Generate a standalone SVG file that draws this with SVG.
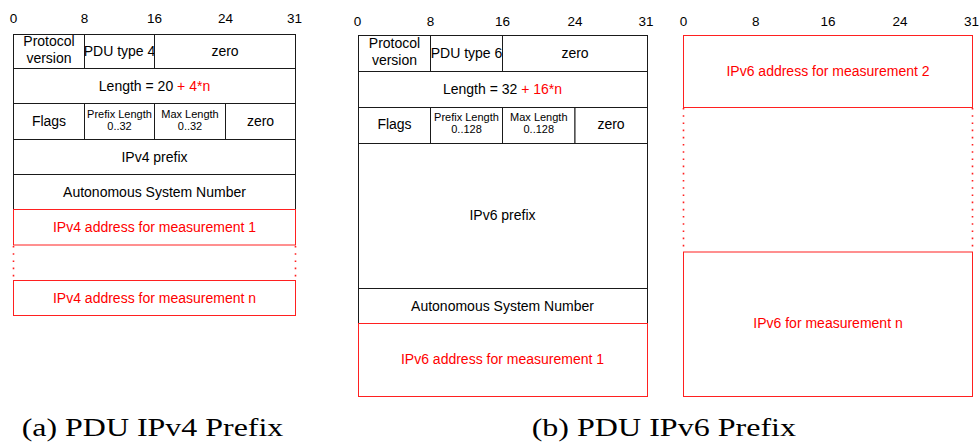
<svg xmlns="http://www.w3.org/2000/svg" width="979" height="443" viewBox="0 0 979 443">
  <style>
    .cell { fill: #ffffff; stroke: #1a1a1a; stroke-width: 1; }
    .rcell { fill: #ffffff; stroke: #ff2020; stroke-width: 1; }
    .dots { stroke: #ff2020; stroke-width: 1.6; stroke-dasharray: 1.6 5.6; fill: none; }
    text { font-family: "Liberation Sans", Arial, Helvetica, sans-serif; text-anchor: middle; fill: #000000; }
    .t { font-size: 14px; }
    .sm { font-size: 11px; }
    .bit { font-size: 13.5px; }
    .red { fill: #ff0000; }
    .cap { font-family: "Liberation Serif", "Times New Roman", serif; font-size: 25px; text-anchor: start; }
  </style>

  <rect width="979" height="443" fill="#ffffff"/>

  <!-- ===== (a) PDU IPv4 Prefix ===== -->
  <g id="ipv4-bits" class="bit">
    <text x="13.5" y="23">0</text>
    <text x="84.5" y="23">8</text>
    <text x="154.5" y="23">16</text>
    <text x="225.5" y="23">24</text>
    <text x="294.5" y="23">31</text>
  </g>
  <g id="v4-protocol-version">
    <rect class="cell" x="13.5" y="34.5" width="71" height="34"/>
    <text class="t" x="49" y="46">Protocol</text>
    <text class="t" x="49" y="62.7">version</text>
  </g>
  <g id="v4-pdu-type">
    <rect class="cell" x="84.5" y="34.5" width="70" height="34"/>
    <text class="t" x="119.5" y="55.5" font-size="13">PDU type 4</text>
  </g>
  <g id="v4-zero1">
    <rect class="cell" x="154.5" y="34.5" width="141" height="34"/>
    <text class="t" x="225" y="55.5">zero</text>
  </g>
  <g id="v4-length">
    <rect class="cell" x="13.5" y="68.5" width="282" height="35"/>
    <text class="t" x="154.5" y="91">Length = 20 <tspan class="red">+ 4*n</tspan></text>
  </g>
  <g id="v4-flags">
    <rect class="cell" x="13.5" y="103.5" width="71" height="36"/>
    <text class="t" x="49" y="125.5">Flags</text>
  </g>
  <g id="v4-prefix-length">
    <rect class="cell" x="84.5" y="103.5" width="70" height="36"/>
    <text class="sm" x="119.5" y="118.3">Prefix Length</text>
    <text class="sm" x="119.5" y="129.5">0..32</text>
  </g>
  <g id="v4-max-length">
    <rect class="cell" x="154.5" y="103.5" width="71" height="36"/>
    <text class="sm" x="190" y="118.3">Max Length</text>
    <text class="sm" x="190" y="129.5">0..32</text>
  </g>
  <g id="v4-zero2">
    <rect class="cell" x="225.5" y="103.5" width="70" height="36"/>
    <text class="t" x="260.5" y="125.5">zero</text>
  </g>
  <g id="v4-prefix">
    <rect class="cell" x="13.5" y="139.5" width="282" height="35"/>
    <text class="t" x="154.5" y="161.5">IPv4 prefix</text>
  </g>
  <g id="v4-asn">
    <rect class="cell" x="13.5" y="174.5" width="282" height="35"/>
    <text class="t" x="154.5" y="196.5">Autonomous System Number</text>
  </g>
  <g id="v4-measurement-1">
    <rect class="rcell" x="13.5" y="209.5" width="282" height="35.5"/>
    <text class="t red" x="154.5" y="231.5">IPv4 address for measurement 1</text>
  </g>
  <g id="v4-measurement-n">
    <rect class="rcell" x="13.5" y="280.5" width="282" height="35"/>
    <text class="t red" x="154.5" y="302.5">IPv4 address for measurement n</text>
  </g>

  <!-- ===== (b) PDU IPv6 Prefix ===== -->
  <g id="ipv6-bits" class="bit">
    <text x="357.5" y="25.5">0</text>
    <text x="430.5" y="25.5">8</text>
    <text x="502.5" y="25.5">16</text>
    <text x="575" y="25.5">24</text>
    <text x="646" y="25.5">31</text>
  </g>
  <g id="v6-protocol-version">
    <rect class="cell" x="358.5" y="35.5" width="72" height="36"/>
    <text class="t" x="394.5" y="47.7">Protocol</text>
    <text class="t" x="394.5" y="65">version</text>
  </g>
  <g id="v6-pdu-type">
    <rect class="cell" x="430.5" y="35.5" width="72" height="36"/>
    <text class="t" x="466.5" y="57.5" font-size="13.5">PDU type 6</text>
  </g>
  <g id="v6-zero1">
    <rect class="cell" x="502.5" y="35.5" width="145" height="36"/>
    <text class="t" x="575" y="57.5">zero</text>
  </g>
  <g id="v6-length">
    <rect class="cell" x="358.5" y="71.5" width="289" height="36"/>
    <text class="t" x="502.5" y="93.5">Length = 32 <tspan class="red">+ 16*n</tspan></text>
  </g>
  <g id="v6-flags">
    <rect class="cell" x="358.5" y="107.5" width="72" height="36"/>
    <text class="t" x="394.5" y="129">Flags</text>
  </g>
  <g id="v6-prefix-length">
    <rect class="cell" x="430.5" y="107.5" width="72" height="36"/>
    <text class="sm" x="466.5" y="121">Prefix Length</text>
    <text class="sm" x="466.5" y="132.5">0..128</text>
  </g>
  <g id="v6-max-length">
    <rect class="cell" x="502.5" y="107.5" width="72.5" height="36"/>
    <text class="sm" x="538.8" y="121">Max Length</text>
    <text class="sm" x="538.8" y="132.5">0..128</text>
  </g>
  <g id="v6-zero2">
    <rect class="cell" x="575" y="107.5" width="72.5" height="36"/>
    <text class="t" x="611" y="129">zero</text>
  </g>
  <g id="v6-prefix">
    <rect class="cell" x="358.5" y="143.5" width="289" height="145"/>
    <text class="t" x="502.5" y="220">IPv6 prefix</text>
  </g>
  <g id="v6-asn">
    <rect class="cell" x="358.5" y="288.5" width="289" height="35"/>
    <text class="t" x="502.5" y="310.5">Autonomous System Number</text>
  </g>
  <g id="v6-measurement-1">
    <rect class="rcell" x="358.5" y="323.5" width="289" height="73"/>
    <text class="t red" x="502.5" y="364">IPv6 address for measurement 1</text>
  </g>

  <!-- continuation of the IPv6 PDU -->
  <g id="ipv6-cont-bits" class="bit">
    <text x="683.5" y="25.5">0</text>
    <text x="755.7" y="25.5">8</text>
    <text x="828" y="25.5">16</text>
    <text x="900" y="25.5">24</text>
    <text x="971.5" y="25.5">31</text>
  </g>
  <g id="v6-measurement-2">
    <rect class="rcell" x="683.5" y="35.5" width="289" height="72"/>
    <text class="t red" x="828" y="75.5">IPv6 address for measurement 2</text>
  </g>
  <g id="v6-measurement-n">
    <rect class="rcell" x="683.5" y="252" width="289" height="144.5"/>
    <text class="t red" x="828" y="327.5">IPv6 for measurement n</text>
  </g>

  <!-- dotted side rails for the repeated measurement entries -->
  <g id="connectors">
    <line class="dots" x1="13.5" y1="246" x2="13.5" y2="280"/>
    <line class="dots" x1="295.5" y1="246" x2="295.5" y2="280"/>
    <line class="dots" x1="683.5" y1="108" x2="683.5" y2="251"/>
    <line class="dots" x1="972.5" y1="108" x2="972.5" y2="251"/>
  </g>

  <!-- sub-figure captions -->
  <g id="captions">
    <text class="cap" x="21.7" y="436" textLength="261.6" lengthAdjust="spacingAndGlyphs">(a) PDU IPv4 Prefix</text>
    <text class="cap" x="531.7" y="436" textLength="264.3" lengthAdjust="spacingAndGlyphs">(b) PDU IPv6 Prefix</text>
  </g>
</svg>
